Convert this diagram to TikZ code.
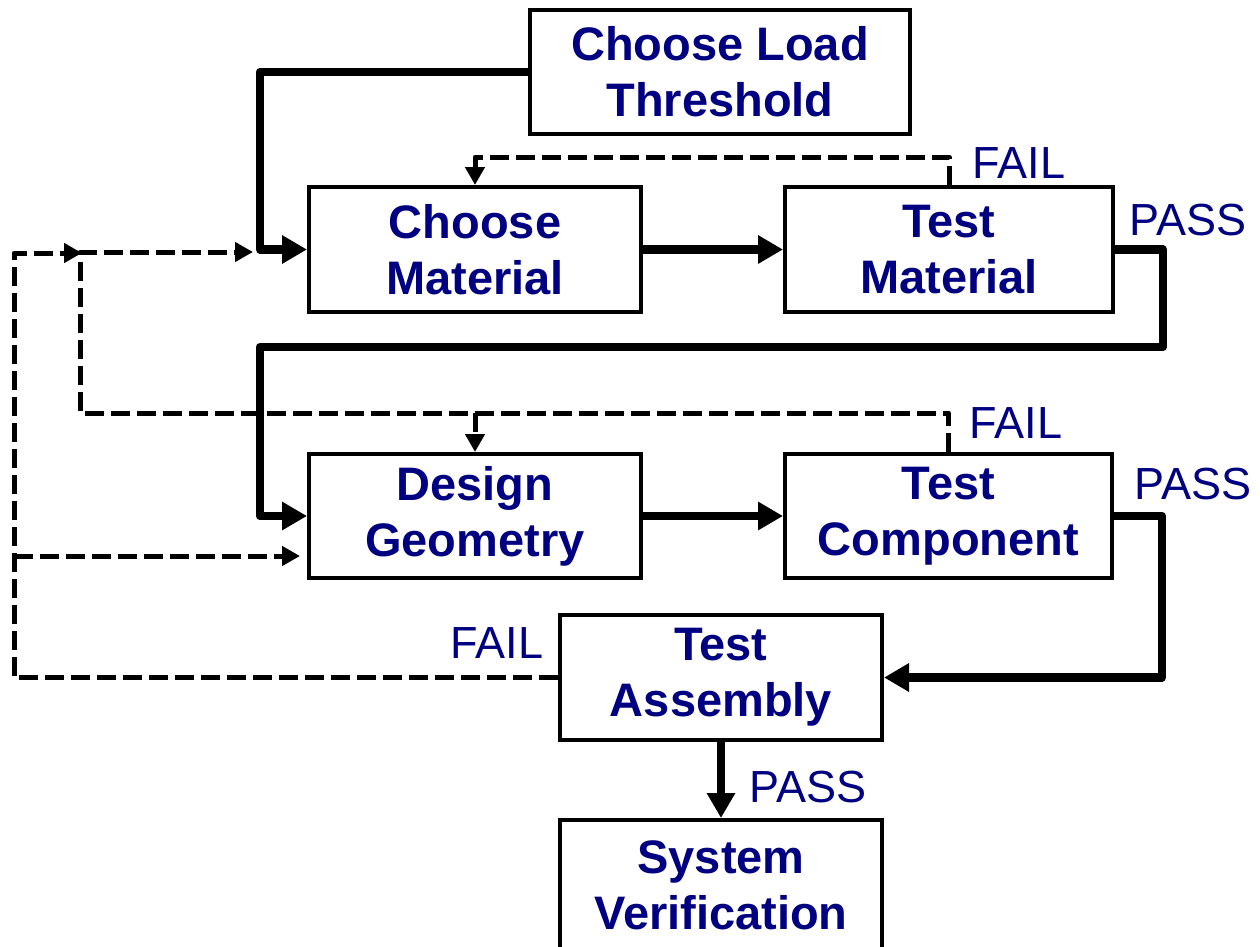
\documentclass[tikz,border=0pt]{standalone}
\usepackage{fontspec}
\setmainfont{Liberation Sans}
\usetikzlibrary{arrows.meta}
\definecolor{boxblue}{HTML}{000080}

\begin{document}
\begin{tikzpicture}[x=1pt,y=-1pt,
  stepbox/.style={draw, line width=4pt, rectangle, inner sep=0pt,
    align=center, text=boxblue,
    font=\fontsize{47}{56}\selectfont\bfseries},
  lbl/.style={inner sep=0pt, text=boxblue, font=\fontsize{45}{54}\selectfont},
  flow/.style={line width=8.5pt, line join=round,
    -{Triangle[length=25pt,width=27pt]}},
  back/.style={line width=5pt, line join=round, dash pattern=on 19pt off 7pt,
    -{Triangle[length=18pt,width=19pt]}}]

\useasboundingbox (0,0) rectangle (1260,946);

% process boxes
\node[stepbox, minimum width=380pt, minimum height=124pt] (load) at (720,72)
  {Choose Load\\Threshold};
\node[stepbox, minimum width=332pt, minimum height=125pt] (choose) at (475,249.5)
  {Choose\\Material};
\node[stepbox, minimum width=328pt, minimum height=125pt] (testmat) at (949,249.5)
  {Test\\Material};
\node[stepbox, minimum width=332pt, minimum height=124pt] (design) at (475,516)
  {Design\\Geometry};
\node[stepbox, minimum width=327pt, minimum height=124pt] (testcomp) at (948.5,516)
  {Test\\Component};
\node[stepbox, minimum width=322pt, minimum height=125pt] (assembly) at (721,677.5)
  {Test\\Assembly};
\node[stepbox, minimum width=322pt, minimum height=130pt] (sysver) at (721,885)
  {System\\Verification};

% bend points of the main flow
\coordinate (c1) at (260,72);
\coordinate (r1) at (1163,347);
\coordinate (l1) at (260,347);
\coordinate (r2) at (1162,677.5);

% main (pass) flow
\draw[flow] (load.west) -- (c1) |- (choose.west);
\draw[flow] (choose.east) -- (testmat.west);
\draw[flow] (testmat.east) -| (r1) -- (l1) |- (design.west);
\draw[flow] (design.east) -- (testcomp.west);
\draw[flow] (testcomp.east) -| (r2) -- (assembly.east);
\draw[flow] (assembly.south) -- (sysver.north);

% failure loops
\coordinate (f1) at (949,157);
\draw[back] (testmat.north) -- (f1) -| (choose.north);

\coordinate (f2) at (948.5,413);
\coordinate (f2b) at (475,413);
\coordinate (f2l) at (80,413);
\coordinate (f2t) at (80,252);
\coordinate (f2e) at (253,252);
\draw[back] (testcomp.north) -- (f2) -- (f2l) -- (f2t) -- (f2e);
\draw[back] (f2b) -- (design.north);

\coordinate (f3l) at (14,677.5);
\coordinate (f3t) at (14,253);
\coordinate (f3e) at (82,253);
\coordinate (f3m) at (14,556);
\coordinate (f3d) at (300,556);
\draw[back] (assembly.west) -- (f3l) -- (f3t) -- (f3e);
\draw[back] (f3m) -- (f3d);

% outcome labels
\node[lbl] (fail1) at (1019,163.5) {FAIL};
\node[lbl] (pass1) at (1188,220) {PASS};
\node[lbl] (fail2) at (1016,423) {FAIL};
\node[lbl] (pass2) at (1193,484) {PASS};
\node[lbl] (fail3) at (497,643) {FAIL};
\node[lbl] (pass3) at (808,787) {PASS};
\end{tikzpicture}
\end{document}
